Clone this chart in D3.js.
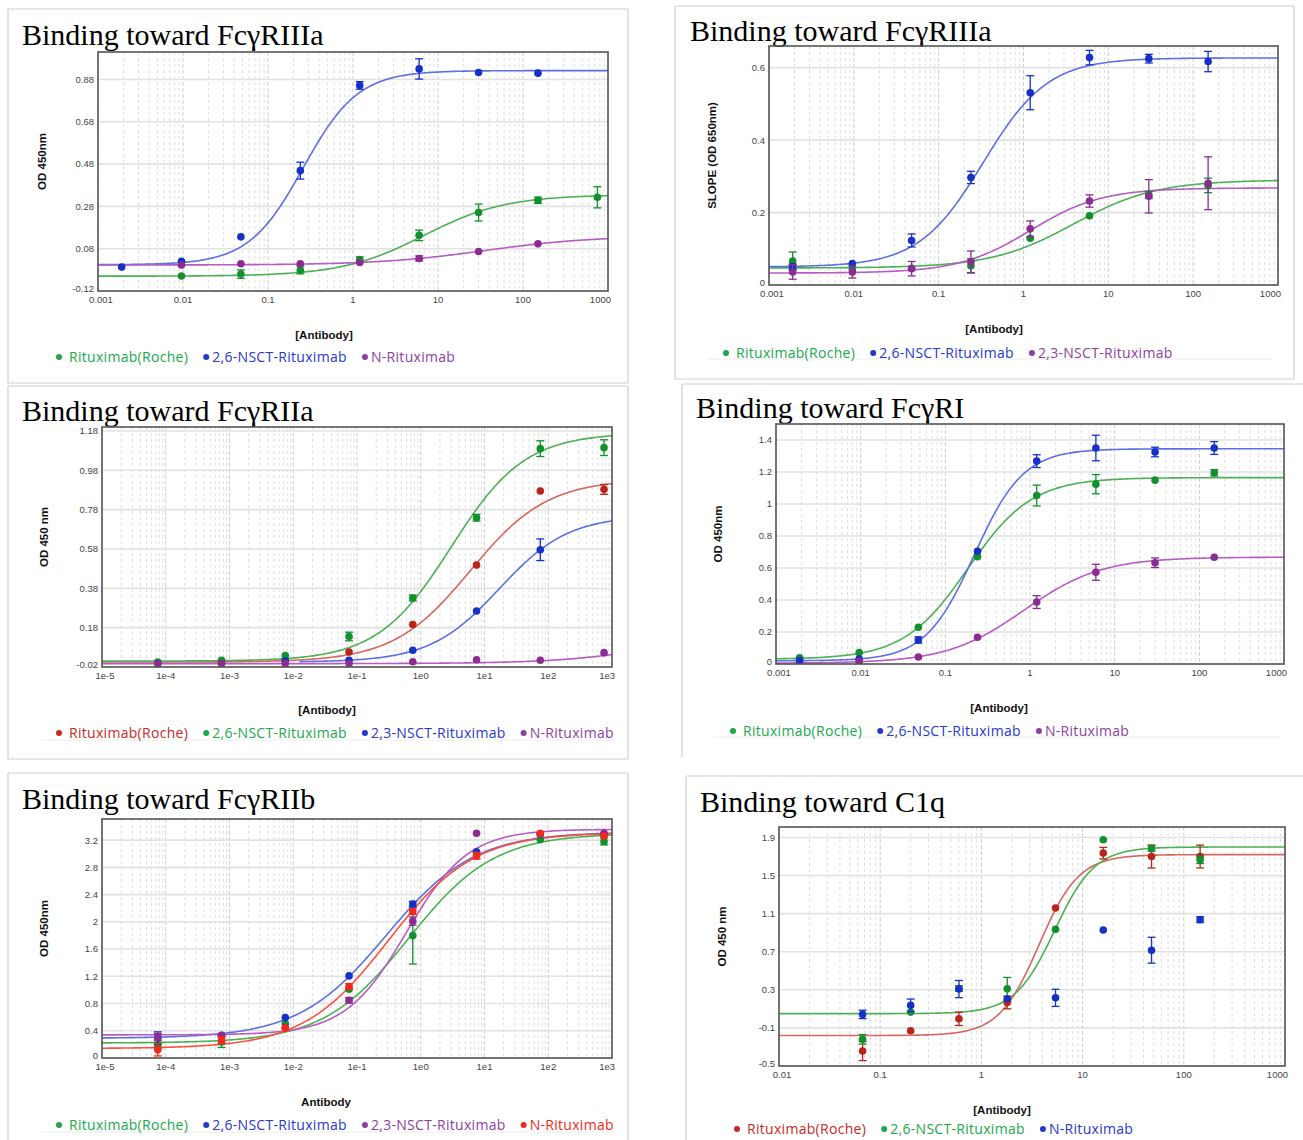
<!DOCTYPE html>
<html><head><meta charset="utf-8">
<script src="https://cdn.jsdelivr.net/npm/d3@7"></script>
<style>body{margin:0;background:#fff;} svg{display:block}</style>
</head><body><svg id="c" width="1303" height="1140"></svg>
<script>
// ---------------- DATA ----------------
// Panel A: Binding toward FcγRIIIa (OD 450nm)
const A_conc = [0.0019, 0.0096, 0.048, 0.24, 1.2, 6, 30, 150, 750];
const A_roche = [null, -0.049, -0.040, -0.021, 0.029, 0.143, 0.251, 0.309, 0.323];
const A_roche_err = [0, 0.006, 0.02, 0.018, 0.012, 0.025, 0.04, 0.015, 0.05];
const A_ns26 = [-0.007, 0.020, 0.136, 0.449, 0.852, 0.930, 0.913, 0.910, null];
const A_ns26_err = [0.006, 0.008, 0.007, 0.04, 0.018, 0.048, 0.007, 0.008, 0];
const A_nrit = [null, 0.003, 0.009, 0.009, 0.015, 0.034, 0.067, 0.103, null];
const A_nrit_err = [0, 0.007, 0.006, 0.006, 0.008, 0.012, 0.008, 0.006, 0];
// fitted 4PL curves: [bottom, top, EC50, hill]
const A_fit_roche = [-0.05, 0.335, 6.8, 0.9];
const A_fit_ns26 = [0.004, 0.922, 0.26, 1.35];
const A_fit_nrit = [0.003, 0.14, 36, 0.69];
const A_yticks = [-0.12, 0.08, 0.28, 0.48, 0.68, 0.88];

// Panel B: Binding toward FcγRIIIa (SLOPE)
const B_conc = [0.0019, 0.0096, 0.048, 0.24, 1.2, 6, 30, 150];
const B_roche = [0.066, 0.045, 0.046, 0.053, 0.129, 0.191, 0.249, 0.275];
const B_roche_err = [0.025, 0.006, 0.005, 0.02, 0.005, 0.006, 0.01, 0.02];
const B_ns26 = [0.050, 0.059, 0.123, 0.297, 0.531, 0.628, 0.625, 0.617];
const B_ns26_err = [0.008, 0.006, 0.018, 0.017, 0.047, 0.02, 0.012, 0.028];
const B_ns23 = [0.036, 0.036, 0.045, 0.064, 0.155, 0.232, 0.245, 0.281];
const B_ns23_err = [0.02, 0.017, 0.02, 0.03, 0.022, 0.017, 0.046, 0.073];
const B_fit_roche = [0.047, 0.29, 3.9, 0.89];
const B_fit_ns26 = [0.05, 0.627, 0.336, 1.14];
const B_fit_ns23 = [0.033, 0.268, 1.2, 1.03];
const B_yticks = [0, 0.2, 0.4, 0.6];

// Panel C: Binding toward FcγRIIa
const C_conc = [7.5e-5, 7.5e-4, 0.0075, 0.075, 0.75, 7.5, 75, 750];
const C_roche = [0.000, 0.007, 0.012, 0.056, 0.196, 0.498, 0.875, 0.883];
const C_roche_err = [0.004, 0.004, 0.005, 0.008, 0.012, 0.01, 0.012, 0.025];
const C_ns26 = [0.005, 0.014, 0.038, 0.135, 0.331, 0.739, 1.090, 1.095];
const C_ns26_err = [0.004, 0.004, 0.006, 0.022, 0.015, 0.017, 0.04, 0.04];
const C_ns23 = [null, null, 0.010, 0.014, 0.065, 0.265, 0.576, null];
const C_ns23_err = [0, 0, 0.004, 0.005, 0.006, 0.008, 0.055, 0];
const C_nrit = [-0.003, -0.003, -0.003, -0.002, 0.007, 0.017, 0.014, 0.053];
const C_nrit_err = [0.004, 0.004, 0.004, 0.004, 0.005, 0.01, 0.005, 0.005];
const C_fit_roche = [0.005, 0.935, 6, 0.72];
const C_fit_ns26 = [0.01, 1.17, 3.0, 0.75];
const C_fit_ns23 = [0.005, 0.75, 17, 0.8];
const C_fit_nrit = [-0.003, 0.3, 30000, 0.5];
const C_yticks = [-0.02, 0.18, 0.38, 0.58, 0.78, 0.98, 1.18];

// Panel D: Binding toward FcγRI
const D_conc = [0.0019, 0.0096, 0.048, 0.24, 1.2, 6, 30, 150];
const D_roche = [0.038, 0.071, 0.230, 0.671, 1.053, 1.124, 1.149, 1.195];
const D_roche_err = [0.008, 0.01, 0.01, 0.01, 0.065, 0.06, 0.015, 0.02];
const D_ns26 = [0.021, 0.031, 0.150, 0.704, 1.268, 1.350, 1.325, 1.350];
const D_ns26_err = [0.008, 0.008, 0.02, 0.01, 0.04, 0.08, 0.03, 0.04];
const D_nrit = [null, 0.017, 0.044, 0.167, 0.387, 0.573, 0.633, 0.667];
const D_nrit_err = [0, 0.006, 0.008, 0.015, 0.04, 0.05, 0.03, 0.008];
const D_fit_roche = [0.03, 1.165, 0.185, 1.15];
const D_fit_ns26 = [0.02, 1.345, 0.22, 1.5];
const D_fit_nrit = [0.005, 0.668, 0.85, 0.95];
const D_yticks = [0, 0.2, 0.4, 0.6, 0.8, 1, 1.2, 1.4];

// Panel E: Binding toward FcγRIIb
const E_conc = [7.5e-5, 7.5e-4, 0.0075, 0.075, 0.75, 7.5, 75, 750];
const E_roche = [0.18, 0.235, 0.505, 1.01, 1.80, 2.98, 3.21, 3.18];
const E_roche_err = [0.05, 0.08, 0.03, 0.03, 0.42, 0.03, 0.03, 0.05];
const E_ns26 = [0.294, 0.333, 0.593, 1.206, 2.26, 3.03, 3.29, 3.29];
const E_ns26_err = [0.09, 0.02, 0.03, 0.02, 0.04, 0.03, 0.02, 0.02];
const E_ns23 = [0.31, 0.33, 0.446, 0.848, 2.01, 3.30, 3.29, 3.30];
const E_ns23_err = [0.05, 0.02, 0.02, 0.04, 0.06, 0.01, 0.02, 0.02];
const E_nrit = [0.12, 0.26, 0.44, 1.05, 2.15, 2.97, 3.30, 3.26];
const E_nrit_err = [0.09, 0.05, 0.03, 0.04, 0.04, 0.05, 0.02, 0.03];
const E_fit_roche = [0.22, 3.3, 0.65, 0.65];
const E_fit_ns26 = [0.29, 3.32, 0.29, 0.63];
const E_fit_ns23 = [0.34, 3.36, 0.6, 0.9];
const E_fit_nrit = [0.14, 3.31, 0.31, 0.65];
const E_yticks = [0, 0.4, 0.8, 1.2, 1.6, 2, 2.4, 2.8, 3.2];

// Panel F: Binding toward C1q
const F_conc = [0.067, 0.2, 0.6, 1.8, 5.4, 16, 48, 145];
const F_roche = [-0.343, -0.130, -0.004, 0.167, 1.160, 1.736, 1.700, 1.700];
const F_roche_err = [0.1, 0.01, 0.07, 0.066, 0.015, 0.06, 0.12, 0.12];
const F_ns26 = [-0.22, 0.066, 0.314, 0.31, 0.936, 1.876, 1.785, 1.666];
const F_ns26_err = [0.05, 0.01, 0.03, 0.12, 0.02, 0.01, 0.03, 0.04];
const F_nrit = [0.042, 0.137, 0.308, 0.206, 0.216, 0.929, 0.716, 1.037];
const F_nrit_err = [0.044, 0.066, 0.09, 0.02, 0.09, 0.01, 0.136, 0.03];
const F_fit_roche = [-0.18, 1.72, 3.7, 2.2];
const F_fit_ns26 = [0.05, 1.8, 5.3, 2.2];
const F_yticks = [-0.5, -0.1, 0.3, 0.7, 1.1, 1.5, 1.9];

const X_ticks_dec = [1e-3, 1e-2, 1e-1, 1, 10, 100, 1000];
const X_labels_dec = ["0.001", "0.01", "0.1", "1", "10", "100", "1000"];
const X_ticks_exp = [1e-5, 1e-4, 1e-3, 1e-2, 1e-1, 1, 10, 100, 1000];
const X_labels_exp = ["1e-5", "1e-4", "1e-3", "1e-2", "1e-1", "1e0", "1e1", "1e2", "1e3"];
const F_xticks = [1e-2, 1e-1, 1, 10, 100, 1000];
const F_xlabels = ["0.01", "0.1", "1", "10", "100", "1000"];

// ---------------- STYLE ----------------
const COL = {
  green:  {m: '#12902e', c: '#4cb153', t: '#1aa84a'},
  blue:   {m: '#1630c8', c: '#5d6fe2', t: '#2638cc'},
  purple: {m: '#8a2c92', c: '#b65cc2', t: '#8b3fa0'},
  red:    {m: '#b8251a', c: '#d7665f', t: '#c8281e'},
  bred:   {m: '#f2291a', c: '#ff4f40', t: '#ee2a1a'}
};
const S = (name, col, conc, vals, err, fit, fitFrom) => ({name, col, conc, vals, err, fit, fitFrom});

const panels = [
  {title: 'Binding toward FcγRIIIa', tx: 22, ty: 45, box: [98, 52, 608, 291], xd: [1e-3, 1e3], yd: [-0.12, 1.01],
   yt: A_yticks, ytl: A_yticks.map(String), xt: X_ticks_dec, xtl: X_labels_dec,
   ylab: 'OD 450nm', ylx: 43, xlab: '[Antibody]', xlx: 324, xly: 339, lg: {x: 59, y: 357, line: null},
   border: {x0: 8, y0: 9, x1: 628, y1: 383, sides: 'ltrb'},
   series: [S('Rituximab(Roche)', 'green', A_conc, A_roche, A_roche_err, A_fit_roche),
            S('2,6-NSCT-Rituximab', 'blue', A_conc, A_ns26, A_ns26_err, A_fit_ns26),
            S('N-Rituximab', 'purple', A_conc, A_nrit, A_nrit_err, A_fit_nrit)]},
  {title: 'Binding toward FcγRIIIa', tx: 690, ty: 41, box: [769, 46, 1278, 285], xd: [1e-3, 1e3], yd: [0, 0.66],
   yt: B_yticks, ytl: B_yticks.map(String), xt: X_ticks_dec, xtl: X_labels_dec,
   ylab: 'SLOPE (OD 650nm)', ylx: 713, xlab: '[Antibody]', xlx: 994, xly: 333, lg: {x: 726, y: 353, line: [707, 1272, 359]},
   border: {x0: 675, y0: 6, x1: 1294, y1: 379, sides: 'ltrb'},
   series: [S('Rituximab(Roche)', 'green', B_conc, B_roche, B_roche_err, B_fit_roche),
            S('2,6-NSCT-Rituximab', 'blue', B_conc, B_ns26, B_ns26_err, B_fit_ns26),
            S('2,3-NSCT-Rituximab', 'purple', B_conc, B_ns23, B_ns23_err, B_fit_ns23)]},
  {title: 'Binding toward FcγRIIa', tx: 22, ty: 421, box: [102, 427, 612, 667], xd: [1e-5, 1e3], yd: [-0.02, 1.2],
   yt: C_yticks, ytl: C_yticks.map(String), xt: X_ticks_exp, xtl: X_labels_exp,
   ylab: 'OD 450 nm', ylx: 45, xlab: '[Antibody]', xlx: 327, xly: 714, lg: {x: 59, y: 733, line: [41, 615, 740]},
   border: {x0: 8, y0: 386, x1: 628, y1: 759, sides: 'ltrb'},
   series: [S('Rituximab(Roche)', 'red', C_conc, C_roche, C_roche_err, C_fit_roche),
            S('2,6-NSCT-Rituximab', 'green', C_conc, C_ns26, C_ns26_err, C_fit_ns26),
            S('2,3-NSCT-Rituximab', 'blue', C_conc, C_ns23, C_ns23_err, C_fit_ns23, 0.0125),
            S('N-Rituximab', 'purple', C_conc, C_nrit, C_nrit_err, C_fit_nrit)]},
  {title: 'Binding toward FcγRI', tx: 696, ty: 418, box: [776, 424, 1284, 664], xd: [1e-3, 1e3], yd: [0, 1.5],
   yt: D_yticks, ytl: D_yticks.map(String), xt: X_ticks_dec, xtl: X_labels_dec,
   ylab: 'OD 450nm', ylx: 719, xlab: '[Antibody]', xlx: 999, xly: 712, lg: {x: 733, y: 731, line: [714, 1280, 737]},
   border: {x0: 682, y0: 384, x1: 1310, y1: 757, sides: 'lt'},
   series: [S('Rituximab(Roche)', 'green', D_conc, D_roche, D_roche_err, D_fit_roche),
            S('2,6-NSCT-Rituximab', 'blue', D_conc, D_ns26, D_ns26_err, D_fit_ns26),
            S('N-Rituximab', 'purple', D_conc, D_nrit, D_nrit_err, D_fit_nrit)]},
  {title: 'Binding toward FcγRIIb', tx: 22, ty: 809, box: [102, 819, 612, 1058], xd: [1e-5, 1e3], yd: [0, 3.51],
   yt: E_yticks, ytl: E_yticks.map(String), xt: X_ticks_exp, xtl: X_labels_exp,
   ylab: 'OD 450nm', ylx: 45, xlab: 'Antibody', xlx: 326, xly: 1106, lg: {x: 59, y: 1125, line: [41, 615, 1132]},
   border: {x0: 8, y0: 773, x1: 628, y1: 1150, sides: 'ltr'},
   series: [S('Rituximab(Roche)', 'green', E_conc, E_roche, E_roche_err, E_fit_roche),
            S('2,6-NSCT-Rituximab', 'blue', E_conc, E_ns26, E_ns26_err, E_fit_ns26),
            S('2,3-NSCT-Rituximab', 'purple', E_conc, E_ns23, E_ns23_err, E_fit_ns23),
            S('N-Rituximab', 'bred', E_conc, E_nrit, E_nrit_err, E_fit_nrit)]},
  {title: 'Binding toward C1q', tx: 700, ty: 812, box: [779, 827, 1285, 1066], xd: [1e-2, 1e3], yd: [-0.5, 2.01],
   yt: F_yticks, ytl: F_yticks.map(String), xt: F_xticks, xtl: F_xlabels,
   ylab: 'OD 450 nm', ylx: 723, xlab: '[Antibody]', xlx: 1002, xly: 1114, lg: {x: 737, y: 1129, line: null},
   border: {x0: 686, y0: 776, x1: 1310, y1: 1150, sides: 'lt'},
   series: [S('Rituximab(Roche)', 'red', F_conc, F_roche, F_roche_err, F_fit_roche),
            S('2,6-NSCT-Rituximab', 'green', F_conc, F_ns26, F_ns26_err, F_fit_ns26),
            S('N-Rituximab', 'blue', F_conc, F_nrit, F_nrit_err, null)]}
];

// ---------------- DRAW ----------------
const svg = d3.select('#c');
svg.append('rect').attr('width', 1303).attr('height', 1140).attr('fill', '#fff');
const fourPL = (p, x) => p[0] + (p[1] - p[0]) / (1 + Math.pow(p[2] / x, p[3]));

panels.forEach((P, pi) => {
  const g = svg.append('g');
  const [x0, y0, x1, y1] = P.box;
  const xs = d3.scaleLog().domain(P.xd).range([x0, x1]);
  const ys = d3.scaleLinear().domain(P.yd).range([y1, y0]);

  // panel border
  const b = P.border;
  const bl = g.append('g').attr('stroke', '#cfcfcf').attr('stroke-width', 1.2);
  if (b.sides.includes('l')) bl.append('line').attr('x1', b.x0).attr('x2', b.x0).attr('y1', b.y0).attr('y2', b.y1);
  if (b.sides.includes('t')) bl.append('line').attr('x1', b.x0).attr('x2', b.x1).attr('y1', b.y0).attr('y2', b.y0);
  if (b.sides.includes('r')) bl.append('line').attr('x1', b.x1).attr('x2', b.x1).attr('y1', b.y0).attr('y2', b.y1);
  if (b.sides.includes('b')) bl.append('line').attr('x1', b.x0).attr('x2', b.x1).attr('y1', b.y1).attr('y2', b.y1);

  // title
  g.append('text').attr('x', P.tx).attr('y', P.ty).text(P.title)
    .attr('font-family', '"Liberation Serif", "Times New Roman", serif').attr('font-size', 30).attr('fill', '#000');

  // grid: vertical minor + major
  const lo = Math.round(Math.log10(P.xd[0])), hi = Math.round(Math.log10(P.xd[1]));
  const grid = g.append('g');
  for (let d = lo; d < hi; d++) {
    for (let k = 2; k <= 9; k++) {
      const xv = xs(k * Math.pow(10, d));
      grid.append('line').attr('x1', xv).attr('x2', xv).attr('y1', y0).attr('y2', y1)
        .attr('stroke', '#dedede').attr('stroke-width', 1).attr('stroke-dasharray', '3,3');
    }
  }
  P.xt.forEach(t => {
    grid.append('line').attr('x1', xs(t)).attr('x2', xs(t)).attr('y1', y0).attr('y2', y1)
      .attr('stroke', '#cdcdcd').attr('stroke-width', 1).attr('stroke-dasharray', '4,2');
  });
  P.yt.forEach(t => {
    grid.append('line').attr('x1', x0).attr('x2', x1).attr('y1', ys(t)).attr('y2', ys(t))
      .attr('stroke', '#e2e2e2').attr('stroke-width', 1.6);
  });

  // clip
  const cid = 'clip' + pi;
  svg.append('clipPath').attr('id', cid).append('rect').attr('x', x0).attr('y', y0).attr('width', x1 - x0).attr('height', y1 - y0);
  const plot = g.append('g').attr('clip-path', `url(#${cid})`);

  // curves
  const line = d3.line().x(d => xs(d[0])).y(d => ys(d[1])).curve(d3.curveLinear);
  P.series.forEach(s => {
    if (!s.fit) return;
    const start = Math.log10(s.fitFrom || P.xd[0]), end = Math.log10(P.xd[1]);
    const pts = d3.range(0, 301).map(i => {
      const x = Math.pow(10, start + (end - start) * i / 300);
      return [x, fourPL(s.fit, x)];
    });
    plot.append('path').attr('d', line(pts)).attr('fill', 'none')
      .attr('stroke', COL[s.col].c).attr('stroke-width', 1.6);
  });

  // error bars + points
  P.series.forEach(s => {
    const c = COL[s.col].m;
    s.conc.forEach((x, i) => {
      const v = s.vals[i];
      if (v === null || v === undefined) return;
      const e = s.err[i] || 0;
      const cx = xs(x), cy = ys(v);
      if (e > 0) {
        const ya = ys(v + e), yb = ys(v - e);
        if (Math.abs(yb - ya) > 5) {
          plot.append('line').attr('x1', cx).attr('x2', cx).attr('y1', ya).attr('y2', yb).attr('stroke', c).attr('stroke-width', 1.3);
          [ya, yb].forEach(yy => plot.append('line').attr('x1', cx - 4).attr('x2', cx + 4).attr('y1', yy).attr('y2', yy).attr('stroke', c).attr('stroke-width', 1.3));
        }
      }
      plot.append('circle').attr('cx', cx).attr('cy', cy).attr('r', 3.8).attr('fill', c);
    });
  });

  // frame
  g.append('rect').attr('x', x0).attr('y', y0).attr('width', x1 - x0).attr('height', y1 - y0)
    .attr('fill', 'none').attr('stroke', '#555').attr('stroke-width', 1.6);

  // tick labels
  const tf = '"Liberation Sans", Arial, sans-serif';
  P.yt.forEach((t, i) => {
    const dy = i === 0 ? 0.5 : 3.4;
    g.append('text').attr('x', x0 - 4).attr('y', ys(t) + dy).attr('text-anchor', 'end')
      .attr('font-family', tf).attr('font-size', 9.5).attr('fill', '#444').text(P.ytl[i]);
  });
  P.xt.forEach((t, i) => {
    const last = i === P.xt.length - 1, first = i === 0;
    g.append('text').attr('x', last ? xs(t) + 3 : (first ? xs(t) + 3 : xs(t))).attr('y', y1 + 12)
      .attr('text-anchor', last ? 'end' : 'middle')
      .attr('font-family', tf).attr('font-size', 9.5).attr('fill', '#444').text(P.xtl[i]);
  });

  // axis titles
  g.append('text').attr('x', P.xlx).attr('y', P.xly).attr('text-anchor', 'middle')
    .attr('font-family', tf).attr('font-weight', 'bold').attr('font-size', 11.5).attr('fill', '#111').text(P.xlab);
  const ym = (y0 + y1) / 2 - 10;
  g.append('text').attr('transform', `translate(${P.ylx},${ym}) rotate(-90)`).attr('text-anchor', 'middle')
    .attr('dominant-baseline', 'middle')
    .attr('font-family', tf).attr('font-weight', 'bold').attr('font-size', 11.5).attr('fill', '#111').text(P.ylab);

  // legend
  if (P.lg.line) {
    g.append('line').attr('x1', P.lg.line[0]).attr('x2', P.lg.line[1]).attr('y1', P.lg.line[2]).attr('y2', P.lg.line[2])
      .attr('stroke', '#ececec').attr('stroke-width', 1);
  }
  let lx = P.lg.x;
  P.series.forEach((s, i) => {
    g.append('circle').attr('cx', lx).attr('cy', P.lg.y).attr('r', 3).attr('fill', COL[s.col].t);
    const tx = lx + (i === 0 ? 10 : 6);
    const t = g.append('text').attr('x', tx).attr('y', P.lg.y + 5)
      .attr('font-family', '"Open Sans", "Noto Sans", sans-serif').attr('font-size', 14)
      .attr('letter-spacing', 0.3)
      .attr('fill', COL[s.col].t).text(s.name);
    const w = t.node().getComputedTextLength();
    lx = tx + w + 18;
  });
});
</script></body></html>
